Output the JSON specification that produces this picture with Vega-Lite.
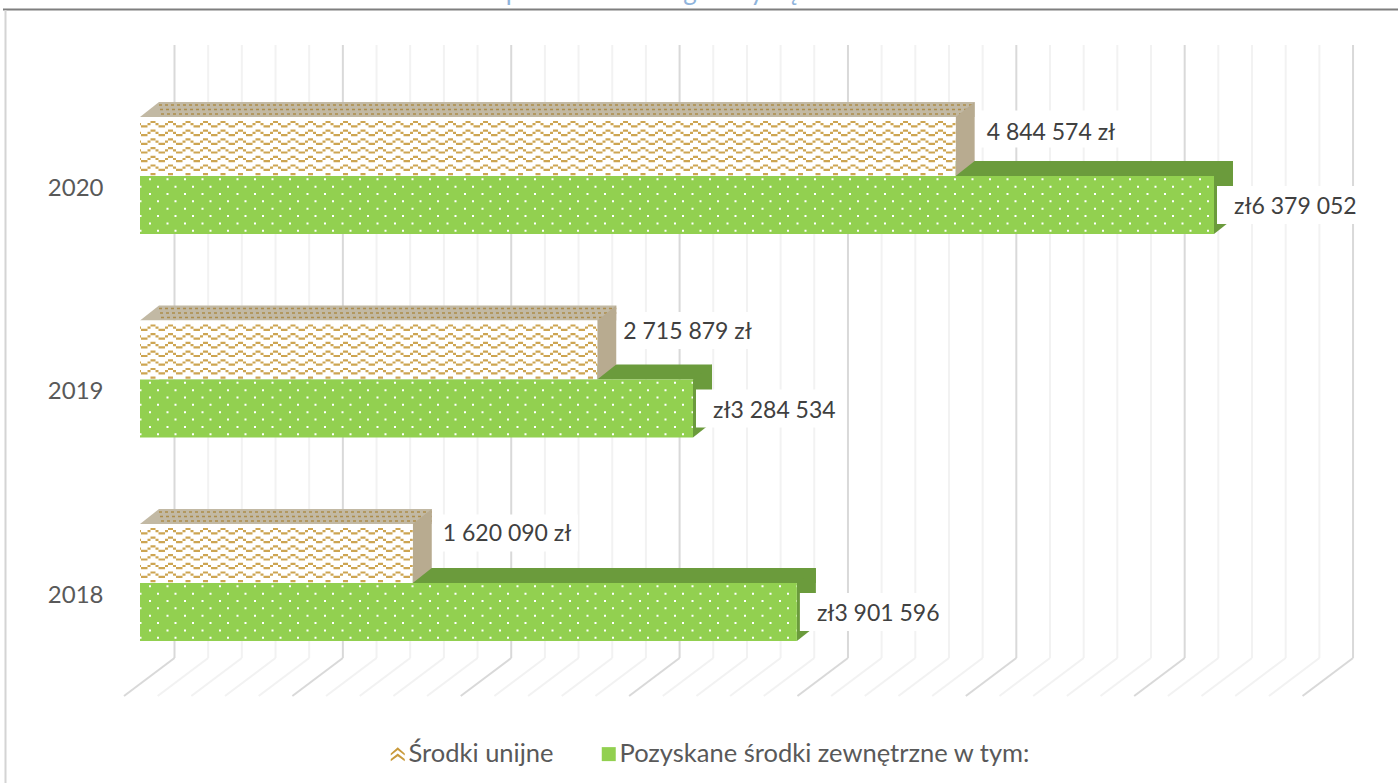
{"$schema":"https://vega.github.io/schema/vega-lite/v6.json","width":1398,"height":783,"padding":0,"autosize":{"type":"none"},"background":"white","config":{"view":{"stroke":null},"font":"Lato","text":{"font":"Lato"}},
"data":{"values":[
{"year":2020,"series":"Środki unijne","value":4844574,"label":"4 844 574 zł"},
{"year":2020,"series":"Pozyskane środki zewnętrzne w tym:","value":6379052,"label":"zł6 379 052"},
{"year":2019,"series":"Środki unijne","value":2715879,"label":"2 715 879 zł"},
{"year":2019,"series":"Pozyskane środki zewnętrzne w tym:","value":3284534,"label":"zł3 284 534"},
{"year":2018,"series":"Środki unijne","value":1620090,"label":"1 620 090 zł"},
{"year":2018,"series":"Pozyskane środki zewnętrzne w tym:","value":3901596,"label":"zł3 901 596"}]},
"encoding":{"x":{"field":"value","type":"quantitative","scale":{"domain":[0,6379052],"range":[140,1214],"nice":false,"zero":false},"axis":null},
"y":{"field":"year","type":"ordinal","title":null,"scale":{"type":"point","padding":0,"domain":[2020,2019,2018],"range":[176,583]},"axis":{"title":null,"orient":"left","offset":-103,"domain":false,"ticks":false,"labelPadding":0,"labelOffset":12,"labelFont":"Lato","labelFontSize":24,"labelColor":"#595959","grid":false}}},
"layer":[
{"data":{"values":[{"value":0,"end":6379052}]},"mark":{"type":"rule","color":"#7f7f7f","strokeWidth":2,"yOffset":-166.5,"xOffset":-137,"x2Offset":190},"encoding":{"x2":{"field":"end"},"y":{"datum":2020,"type":"ordinal","title":null}}},
{"data":{"values":[{"value":0,"end":6379052}]},"mark":{"type":"rule","color":"#d4d4d4","strokeWidth":2,"xOffset":-134.5,"yOffset":-166,"y2Offset":202},"encoding":{"y":{"datum":2020,"type":"ordinal","title":null},"y2":{"datum":2018}}},
{"data":{"values":[{"glyph":"p","value":2215491},{"glyph":"g","value":3266809},{"glyph":"y","value":3664766},{"glyph":"ę","value":3878593}]},"mark":{"type":"text","fontSize":26,"color":"#8fb4dc","align":"center","baseline":"alphabetic","yOffset":-176,"font":"Lato"},"encoding":{"y":{"datum":2020,"type":"ordinal","title":null},"text":{"field":"glyph"}}},
{"data":{"name":"grid","values":[
{"value":0,"major":"y"},{"value":200000,"major":"n"},{"value":400000,"major":"n"},{"value":600000,"major":"n"},{"value":800000,"major":"n"},
{"value":1000000,"major":"y"},{"value":1200000,"major":"n"},{"value":1400000,"major":"n"},{"value":1600000,"major":"n"},{"value":1800000,"major":"n"},
{"value":2000000,"major":"y"},{"value":2200000,"major":"n"},{"value":2400000,"major":"n"},{"value":2600000,"major":"n"},{"value":2800000,"major":"n"},
{"value":3000000,"major":"y"},{"value":3200000,"major":"n"},{"value":3400000,"major":"n"},{"value":3600000,"major":"n"},{"value":3800000,"major":"n"},
{"value":4000000,"major":"y"},{"value":4200000,"major":"n"},{"value":4400000,"major":"n"},{"value":4600000,"major":"n"},{"value":4800000,"major":"n"},
{"value":5000000,"major":"y"},{"value":5200000,"major":"n"},{"value":5400000,"major":"n"},{"value":5600000,"major":"n"},{"value":5800000,"major":"n"},
{"value":6000000,"major":"y"},{"value":6200000,"major":"n"},{"value":6400000,"major":"n"},{"value":6600000,"major":"n"},{"value":6800000,"major":"n"},
{"value":7000000,"major":"y"}]},
"encoding":{"stroke":{"field":"major","type":"nominal","scale":{"domain":["y","n"],"range":["#d9d9d9","#f2f2f2"]},"legend":null}},
"layer":[
{"mark":{"type":"rule","strokeWidth":2,"xOffset":34.5,"yOffset":-131,"y2Offset":75},"encoding":{"y":{"datum":2020,"type":"ordinal","title":null},"y2":{"datum":2018}}},
{"mark":{"type":"rule","strokeWidth":2,"xOffset":34.5,"x2Offset":-16,"yOffset":75,"y2Offset":113},"encoding":{"x2":{"field":"value"},"y":{"datum":2018,"type":"ordinal","title":null},"y2":{"datum":2018}}}
]},
{"mark":{"type":"point","filled":true,"opacity":1,"size":30,"strokeWidth":0},"encoding":{"x":{"datum":1000000},"color":{"field":"series","type":"nominal","scale":{"domain":["Środki unijne","Pozyskane środki zewnętrzne w tym:"],"range":["#c99a3c","#92d050"]},"legend":{"title":null,"orient":"none","legendX":385,"legendY":741,"direction":"horizontal","columns":2,"gridAlign":"each","columnPadding":42,"symbolSize":196,"symbolStrokeWidth":0,"symbolOpacity":1,"labelFont":"Lato","labelFontSize":25.5,"labelColor":"#595959","labelOffset":-2,"labelLimit":600}},"shape":{"field":"series","type":"nominal","scale":{"domain":["Środki unijne","Pozyskane środki zewnętrzne w tym:"],"range":["M-1,-0.1 L0,-1 L1,-0.1 L1,0.2 L0,-0.6 L-1,0.2 Z M-1,0.7 L0,-0.1 L1,0.7 L1,1 L0,0.3 L-1,1 Z","M-1,-1 L1,-1 L1,1 L-1,1 Z"]}}}},
{"transform":[{"filter":{"field":"series","equal":"Pozyskane środki zewnętrzne w tym:"}}],"mark":{"type":"rule","color":"#6b9b3c","strokeWidth":15,"yOffset":-7.5,"xOffset":19,"x2Offset":19},"encoding":{"x":{"datum":0},"x2":{"field":"value"}}},
{"transform":[{"filter":{"field":"series","equal":"Środki unijne"}}],"layer":[
{"mark":{"type":"rule","color":"#c2b9a4","strokeWidth":15,"yOffset":-66.5,"xOffset":19,"x2Offset":19},"encoding":{"x":{"datum":0},"x2":{"field":"value"}}},
{"mark":{"type":"rule","color":"#ad8d4a","strokeWidth":1.5,"yOffset":-71,"xOffset":19,"x2Offset":19,"strokeDash":[3,3]},"encoding":{"x":{"datum":0},"x2":{"field":"value"}}},
{"mark":{"type":"rule","color":"#ad8d4a","strokeWidth":1.5,"yOffset":-66.5,"xOffset":17,"x2Offset":19,"strokeDash":[3,3],"strokeDashOffset":3},"encoding":{"x":{"datum":0},"x2":{"field":"value"}}},
{"mark":{"type":"rule","color":"#ad8d4a","strokeWidth":1.5,"yOffset":-62,"xOffset":15,"x2Offset":19,"strokeDash":[3,3]},"encoding":{"x":{"datum":0},"x2":{"field":"value"}}},
{"mark":{"type":"point","shape":"M0,-59 L19,-74 L19,-59 Z","size":4,"filled":true,"fill":"#c2b9a4","opacity":1,"strokeWidth":0},"encoding":{"x":{"datum":0}}},
{"mark":{"type":"point","shape":"M0,0 L19,-15 L19,-74 L0,-59 Z","size":4,"filled":true,"fill":"#b8ab90","opacity":1,"strokeWidth":0}},
{"mark":{"type":"rule","color":"#ffffff","strokeWidth":59,"yOffset":-29.5},"encoding":{"x":{"datum":0},"x2":{"field":"value"}}},
{"encoding":{"x":{"datum":0},"x2":{"field":"value"}},"layer":[
{"mark":{"type":"rule","color":"#cda552","strokeWidth":2.2,"yOffset":-54,"strokeDash":[5,12.5],"strokeDashOffset":7}},
{"mark":{"type":"rule","color":"#cda552","strokeWidth":2.2,"yOffset":-51.8,"strokeDash":[3,5,3,6.5],"strokeDashOffset":10}},
{"mark":{"type":"rule","color":"#cda552","strokeWidth":2.2,"yOffset":-49.6,"strokeDash":[6.5,11],"strokeDashOffset":16.5}},
{"mark":{"type":"rule","color":"#cda552","strokeWidth":2.2,"yOffset":-45.3,"strokeDash":[5,12.5],"strokeDashOffset":7}},
{"mark":{"type":"rule","color":"#cda552","strokeWidth":2.2,"yOffset":-43.1,"strokeDash":[3,5,3,6.5],"strokeDashOffset":10}},
{"mark":{"type":"rule","color":"#cda552","strokeWidth":2.2,"yOffset":-40.9,"strokeDash":[6.5,11],"strokeDashOffset":16.5}},
{"mark":{"type":"rule","color":"#cda552","strokeWidth":2.2,"yOffset":-36.6,"strokeDash":[5,12.5],"strokeDashOffset":7}},
{"mark":{"type":"rule","color":"#cda552","strokeWidth":2.2,"yOffset":-34.4,"strokeDash":[3,5,3,6.5],"strokeDashOffset":10}},
{"mark":{"type":"rule","color":"#cda552","strokeWidth":2.2,"yOffset":-32.2,"strokeDash":[6.5,11],"strokeDashOffset":16.5}},
{"mark":{"type":"rule","color":"#cda552","strokeWidth":2.2,"yOffset":-27.9,"strokeDash":[5,12.5],"strokeDashOffset":7}},
{"mark":{"type":"rule","color":"#cda552","strokeWidth":2.2,"yOffset":-25.7,"strokeDash":[3,5,3,6.5],"strokeDashOffset":10}},
{"mark":{"type":"rule","color":"#cda552","strokeWidth":2.2,"yOffset":-23.5,"strokeDash":[6.5,11],"strokeDashOffset":16.5}},
{"mark":{"type":"rule","color":"#cda552","strokeWidth":2.2,"yOffset":-19.2,"strokeDash":[5,12.5],"strokeDashOffset":7}},
{"mark":{"type":"rule","color":"#cda552","strokeWidth":2.2,"yOffset":-17,"strokeDash":[3,5,3,6.5],"strokeDashOffset":10}},
{"mark":{"type":"rule","color":"#cda552","strokeWidth":2.2,"yOffset":-14.8,"strokeDash":[6.5,11],"strokeDashOffset":16.5}},
{"mark":{"type":"rule","color":"#cda552","strokeWidth":2.2,"yOffset":-10.5,"strokeDash":[5,12.5],"strokeDashOffset":7}},
{"mark":{"type":"rule","color":"#cda552","strokeWidth":2.2,"yOffset":-8.3,"strokeDash":[3,5,3,6.5],"strokeDashOffset":10}},
{"mark":{"type":"rule","color":"#cda552","strokeWidth":2.2,"yOffset":-6.1,"strokeDash":[6.5,11],"strokeDashOffset":16.5}},
{"mark":{"type":"rule","color":"#cda552","strokeWidth":2.2,"yOffset":-1.8,"strokeDash":[5,12.5],"strokeDashOffset":7}}
]}
]},
{"transform":[{"filter":{"field":"series","equal":"Pozyskane środki zewnętrzne w tym:"}}],"layer":[
{"mark":{"type":"point","shape":"M0,0 L19,-15 L19,43 L0,58 Z","size":4,"filled":true,"fill":"#6b9b3c","opacity":1,"strokeWidth":0}},
{"mark":{"type":"rule","color":"#92d050","strokeWidth":58,"yOffset":29},"encoding":{"x":{"datum":0},"x2":{"field":"value"}}},
{"encoding":{"x":{"datum":0},"x2":{"field":"value"}},"layer":[
{"mark":{"type":"rule","color":"#ffffff","strokeWidth":2,"yOffset":3.3,"strokeDash":[2,15.5],"strokeDashOffset":8.5}},
{"mark":{"type":"rule","color":"#ffffff","strokeWidth":2,"yOffset":10.7,"strokeDash":[2,15.5],"strokeDashOffset":0.5}},
{"mark":{"type":"rule","color":"#ffffff","strokeWidth":2,"yOffset":18,"strokeDash":[2,15.5],"strokeDashOffset":8.5}},
{"mark":{"type":"rule","color":"#ffffff","strokeWidth":2,"yOffset":25.3,"strokeDash":[2,15.5],"strokeDashOffset":0.5}},
{"mark":{"type":"rule","color":"#ffffff","strokeWidth":2,"yOffset":32.7,"strokeDash":[2,15.5],"strokeDashOffset":8.5}},
{"mark":{"type":"rule","color":"#ffffff","strokeWidth":2,"yOffset":40,"strokeDash":[2,15.5],"strokeDashOffset":0.5}},
{"mark":{"type":"rule","color":"#ffffff","strokeWidth":2,"yOffset":47.4,"strokeDash":[2,15.5],"strokeDashOffset":8.5}},
{"mark":{"type":"rule","color":"#ffffff","strokeWidth":2,"yOffset":54.7,"strokeDash":[2,15.5],"strokeDashOffset":0.5}}
]},
{"encoding":{"x2":{"field":"value"}},"mark":{"type":"rule","color":"#ffffff","strokeWidth":38,"yOffset":29,"xOffset":3,"x2Offset":146}},
{"mark":{"type":"text","font":"Lato","fontSize":23,"color":"#404040","align":"left","baseline":"middle","xOffset":20,"yOffset":31},"encoding":{"text":{"field":"label"}}}
]},
{"transform":[{"filter":{"field":"series","equal":"Środki unijne"}},{"filter":{"field":"year","equal":2020}}],"layer":[
{"encoding":{"x2":{"field":"value"}},"mark":{"type":"rule","color":"#ffffff","strokeWidth":37,"yOffset":-47,"xOffset":24,"x2Offset":165}},
{"mark":{"type":"text","font":"Lato","fontSize":23,"color":"#404040","align":"left","baseline":"middle","xOffset":31,"yOffset":-43},"encoding":{"text":{"field":"label"}}}
]},
{"transform":[{"filter":{"field":"series","equal":"Środki unijne"}},{"filter":{"field":"year","equal":2019}}],"layer":[
{"encoding":{"x2":{"field":"value"}},"mark":{"type":"rule","color":"#ffffff","strokeWidth":37,"yOffset":-49,"xOffset":20,"x2Offset":161}},
{"mark":{"type":"text","font":"Lato","fontSize":23,"color":"#404040","align":"left","baseline":"middle","xOffset":26,"yOffset":-48},"encoding":{"text":{"field":"label"}}}
]},
{"transform":[{"filter":{"field":"series","equal":"Środki unijne"}},{"filter":{"field":"year","equal":2018}}],"layer":[
{"encoding":{"x2":{"field":"value"}},"mark":{"type":"rule","color":"#ffffff","strokeWidth":37,"yOffset":-50,"xOffset":24,"x2Offset":165}},
{"mark":{"type":"text","font":"Lato","fontSize":23,"color":"#404040","align":"left","baseline":"middle","xOffset":30,"yOffset":-49},"encoding":{"text":{"field":"label"}}}
]}
]}
